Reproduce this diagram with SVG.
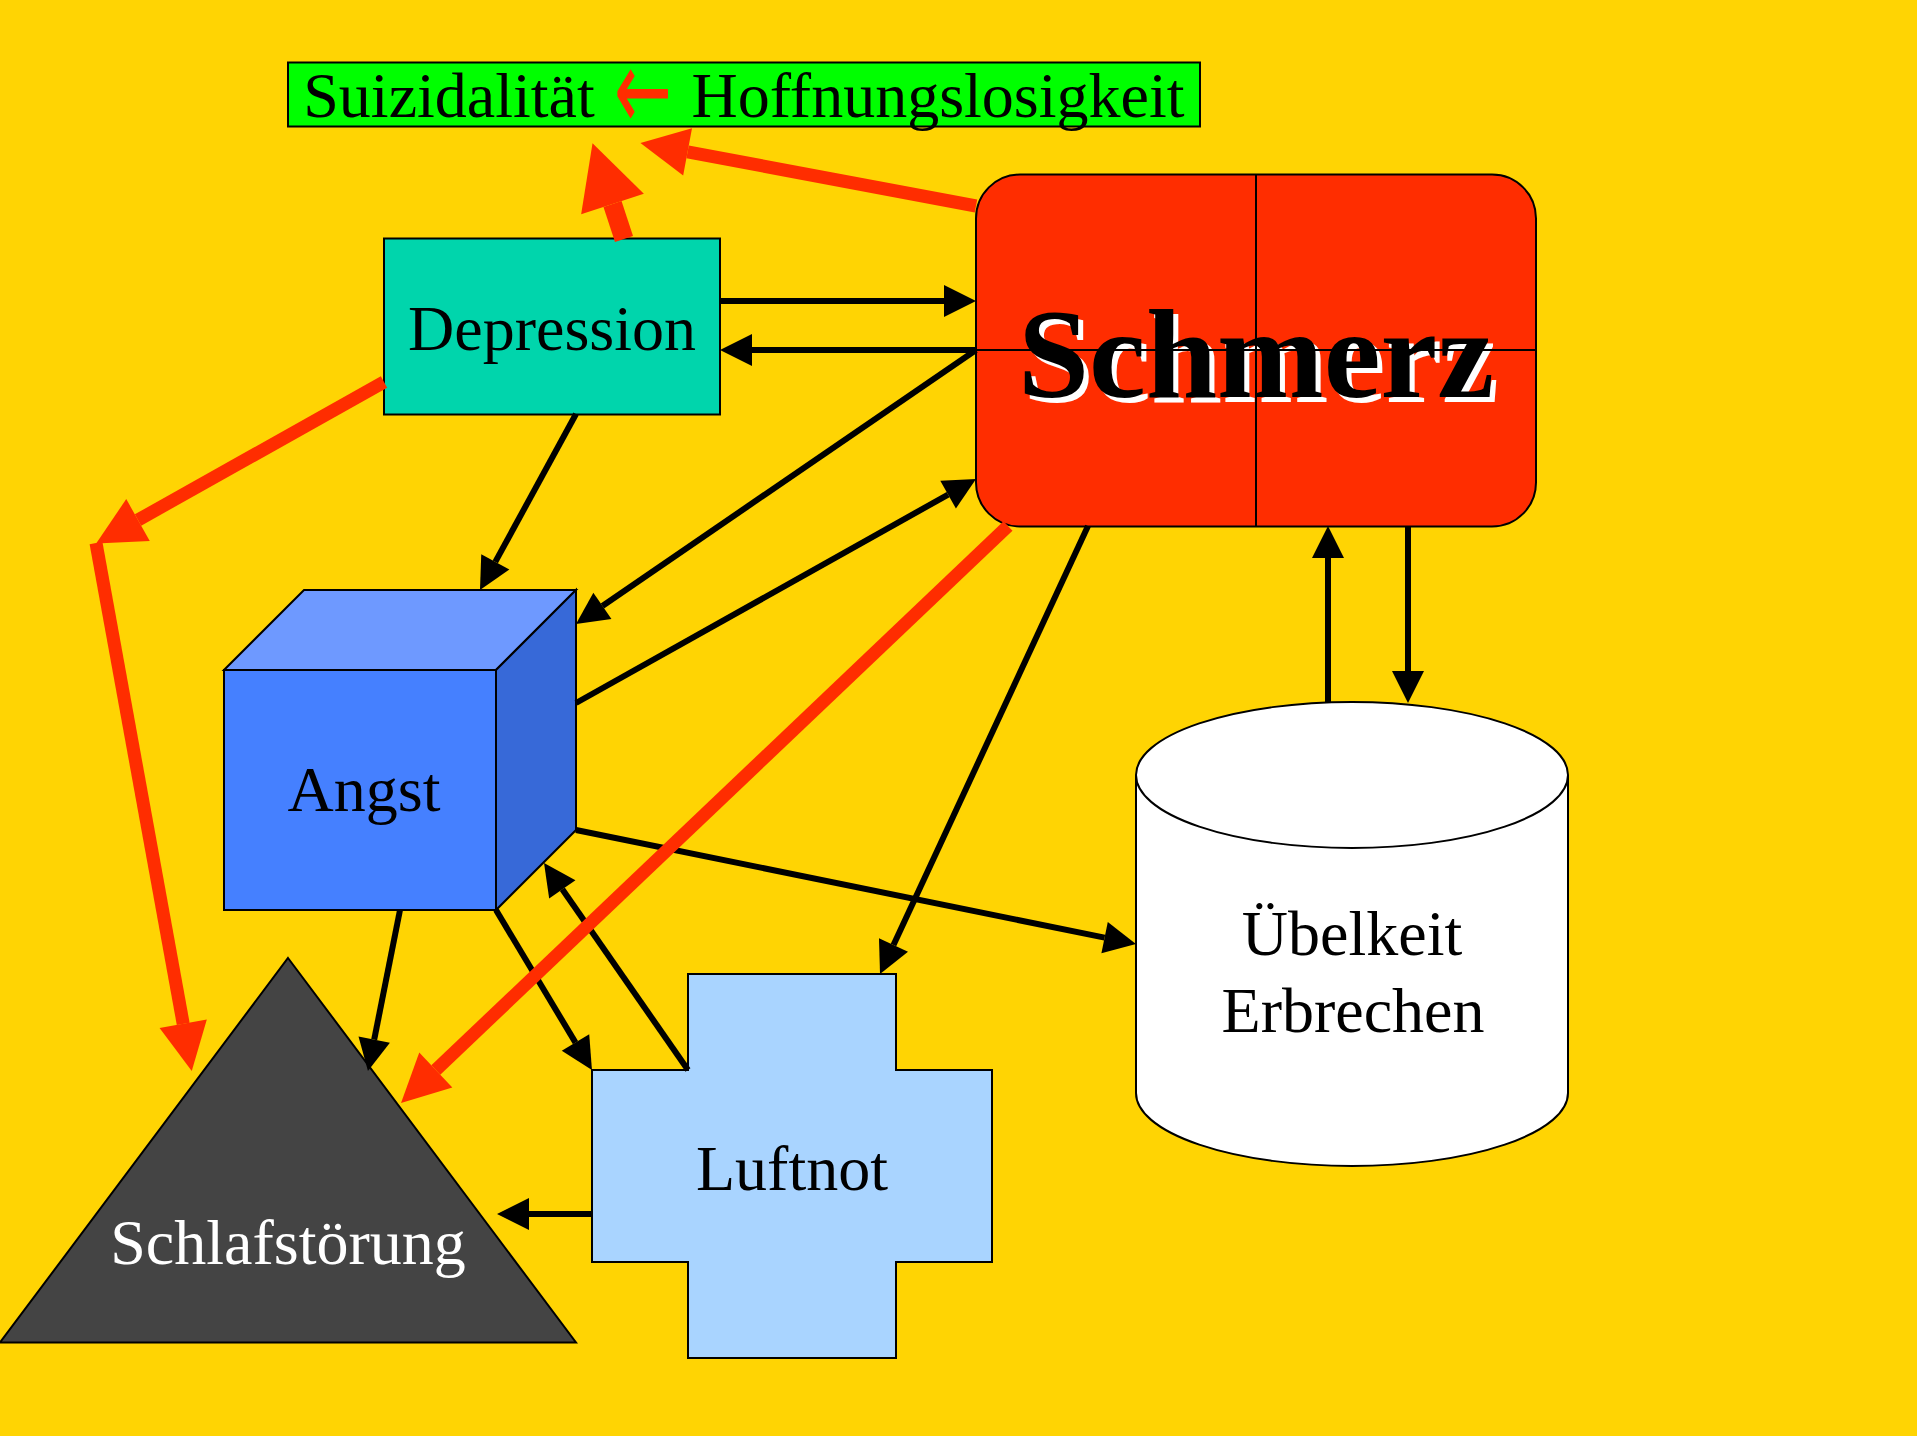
<svg xmlns="http://www.w3.org/2000/svg" width="1917" height="1436" viewBox="0 0 1917 1436">
<style>
text{font-family:"Liberation Serif","Times New Roman",serif;font-size:64px;text-anchor:middle;fill:#000}
.n{stroke:#000;stroke-width:2;stroke-linejoin:miter}
.k line{stroke:#000;stroke-width:6;marker-end:url(#ka)}
.r line{stroke:#FF2D00;stroke-width:13}
.r .s{marker-end:url(#ra)}
.r .b{marker-end:url(#rb);stroke-width:19}
</style>
<defs>
<marker id="ka" markerUnits="userSpaceOnUse" markerWidth="33" markerHeight="34" refX="0" refY="16" orient="auto" overflow="visible"><path d="M0 0L32 16L0 32z" fill="#000"/></marker>
<marker id="ra" markerUnits="userSpaceOnUse" markerWidth="49" markerHeight="50" refX="0" refY="24" orient="auto" overflow="visible"><path d="M0 0L48 24L0 48z" fill="#FF2D00"/></marker>
<marker id="rb" markerUnits="userSpaceOnUse" markerWidth="65" markerHeight="67" refX="0" refY="33" orient="auto" overflow="visible"><path d="M0 0L64 33L0 66z" fill="#FF2D00"/></marker>
</defs>
<rect width="1917" height="1436" fill="#FFD403"/>
<g id="suizidalitaet">
<rect class="n" x="288" y="62.500" width="912" height="64" fill="#00FF00"/>
<text x="449" y="117">Suizidalität</text>
<text transform="translate(643 130.400) scale(1.080 1.800)" x="0" y="0" style="fill:#FF2D00;font-family:'DejaVu Sans',sans-serif">←</text>
<text x="938" y="117">Hoffnungslosigkeit</text>
</g>
<g id="depression">
<rect class="n" x="384" y="238.500" width="336" height="176" fill="#00D5AC"/>
<text x="552" y="350">Depression</text>
</g>
<g id="schmerz">
<rect class="n" x="976" y="174.500" width="560" height="352" rx="44" ry="44" fill="#FF2D00"/>
<text x="1261" y="402" style="font-size:128px;font-weight:bold;fill:#fff">Schmerz</text>
<text x="1256" y="397" style="font-size:128px;font-weight:bold">Schmerz</text>
<path d="M1256 174.500V526.500M976 350H1536" stroke="#000" stroke-width="2" fill="none"/>
</g>
<g id="angst">
<path class="n" d="M224 670L304 590H576L496 670z" fill="#6E99FF"/>
<path class="n" d="M496 670L576 590V830L496 910z" fill="#3769D8"/>
<rect class="n" x="224" y="670" width="272" height="240" fill="#4580FF"/>
<text x="364" y="811">Angst</text>
</g>
<g id="schlafstoerung">
<path class="n" d="M288 958L576 1342.500H0z" fill="#444444"/>
<text x="288" y="1264" style="fill:#fff">Schlafstörung</text>
</g>
<g id="luftnot">
<path class="n" d="M688 974H896V1070H992V1262H896V1358H688V1262H592V1070H688z" fill="#A9D4FF"/>
<text x="792" y="1190">Luftnot</text>
</g>
<g id="uebelkeit">
<path class="n" d="M1136 775V1093A216 73 0 0 0 1568 1093V775A216 73 0 0 0 1136 775z" fill="#fff"/>
<path class="n" d="M1136 775A216 73 0 0 0 1568 775" fill="none"/>
<text x="1352" y="955">Übelkeit</text>
<text x="1353" y="1032">Erbrechen</text>
</g>
<g id="connectors">
<g class="k">
<line x1="720" y1="301" x2="944" y2="301"/>
<line x1="976" y1="350" x2="752" y2="350"/>
<line x1="976" y1="350" x2="602.400" y2="605.900"/>
<line x1="576" y1="703" x2="948.100" y2="494.600"/>
<line x1="576" y1="414" x2="495.300" y2="561.900"/>
<line x1="1088" y1="526" x2="893.500" y2="945"/>
<line x1="576" y1="830" x2="1104.600" y2="937.600"/>
<line x1="1328" y1="703" x2="1328" y2="558"/>
<line x1="1408" y1="526" x2="1408" y2="671"/>
<line x1="400" y1="910" x2="374.200" y2="1039.600"/>
<line x1="496" y1="910" x2="575.500" y2="1042.600"/>
<line x1="688" y1="1070" x2="562.300" y2="889.300"/>
<line x1="592" y1="1214" x2="529" y2="1214"/>
</g>
<g class="r">
<line class="b" x1="624" y1="239" x2="612.500" y2="204"/>
<line class="s" x1="976" y1="206" x2="687.600" y2="151.900"/>
<line class="s" x1="384" y1="382" x2="138" y2="520"/>
<line class="s" x1="96" y1="543" x2="183.200" y2="1023.800"/>
<line class="s" x1="1008" y1="526" x2="435.800" y2="1070"/>
</g>
</g>
</svg>
